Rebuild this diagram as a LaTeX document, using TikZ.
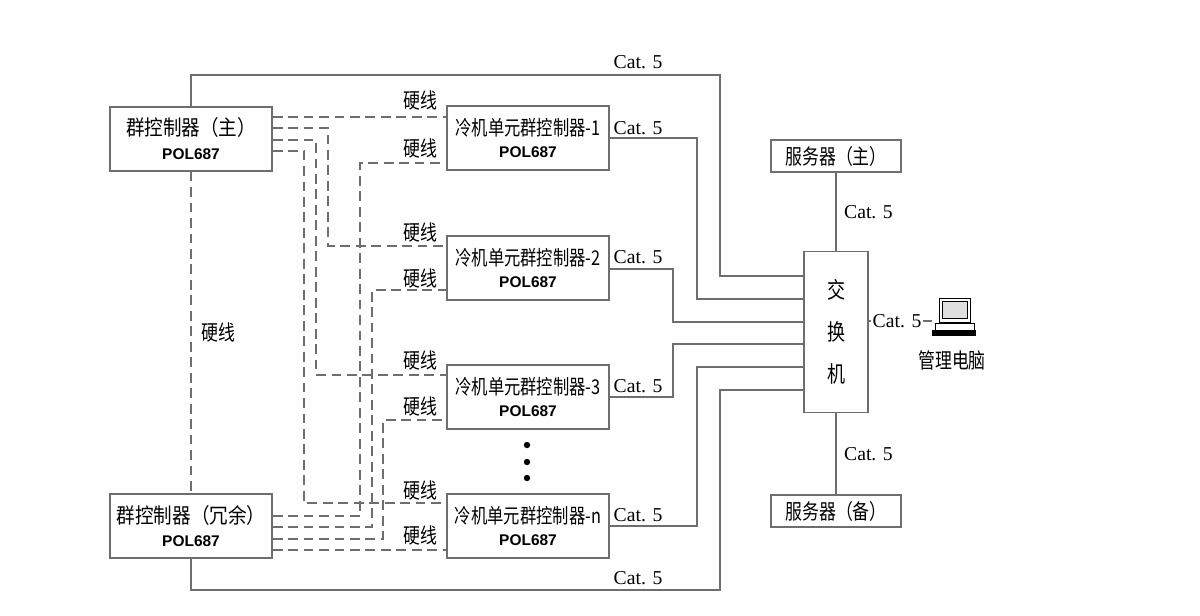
\documentclass[tikz,border=0pt]{standalone}
\usepackage{fontspec}
\setmainfont{Liberation Serif}
\newfontfamily\cjk{Noto Sans CJK SC}[FakeStretch=0.88]
\newfontfamily\cjkn{Noto Sans CJK SC}[FakeStretch=0.8]
\newfontfamily\polfont{Liberation Sans}
\usetikzlibrary{positioning}
\definecolor{lineColor}{RGB}{110,110,110}
\tikzset{
  box/.style = {draw=lineColor, line width=.9pt, inner sep=0pt},
  ctrlBox/.style = {box, minimum width=4.05cm, minimum height=1.6cm, align=center},
  cat/.style = {font=\fontsize{14}{14}\selectfont},
  hardLabel/.style = {font=\cjkn\fontsize{15}{15}\selectfont},
  netLine/.style = {draw=lineColor, line width=.9pt},
  hardLine/.style = {draw=lineColor, line width=.9pt, dash pattern=on 7pt off 4pt}
}
\newcommand{\gcText}[1]{{\cjk\fontsize{15}{16}\selectfont #1}\\[5pt]{\polfont\bfseries\fontsize{11}{13}\selectfont POL687}}
\newcommand{\unitText}[1]{{\cjkn\fontsize{14.5}{16}\selectfont #1}\\[3pt]{\polfont\bfseries\fontsize{11}{13}\selectfont POL687}}
\begin{document}
\begin{tikzpicture}[x=0.025cm, y=-0.025cm]
  \useasboundingbox (0,0) rectangle (1200,616);
  % controllers
  \node [ctrlBox] (gcMain) at (191,139) {\gcText{群控制器（主）}};
  \node [ctrlBox] (gcBack) at (191,526) {\gcText{群控制器（冗余）}};
  \node [ctrlBox] (unitA) at (528,138) {\unitText{冷机单元群控制器-1}};
  \node [ctrlBox] (unitB) at (528,268) {\unitText{冷机单元群控制器-2}};
  \node [ctrlBox] (unitC) at (528,397) {\unitText{冷机单元群控制器-3}};
  \node [ctrlBox] (unitN) at (528,526) {\unitText{冷机单元群控制器-n}};
  \foreach \y in {445,462,478} \fill (527,\y) circle (3.2);
  % network
  \node [box, minimum width=1.6cm, minimum height=4.02cm, align=center,
         font=\cjkn\fontsize{16}{30}\selectfont] (switch) at (836,332) {交\\换\\机};
  \node [box, minimum width=3.25cm, minimum height=.8cm, font=\cjkn\fontsize{15}{15}\selectfont]
        (srvMain) at (836,156) {服务器（主）};
  \node [box, minimum width=3.25cm, minimum height=.8cm, font=\cjkn\fontsize{15}{15}\selectfont]
        (srvBack) at (836,511) {服务器（备）};
  % pc icon
  \coordinate (pc) at (932,321);
  \draw [line width=.6pt] (939,298) rectangle (970,322);
  \fill [gray!25] (942,301) rectangle (967,318);
  \draw [line width=.6pt] (942,301) rectangle (967,318);
  \draw [line width=.6pt] (935,323) rectangle (974,333);
  \fill (932,330) rectangle (976,336);
  \node [font=\cjkn\fontsize{15}{15}\selectfont] (pcLabel) at (952,360) {管理电脑};
  % cat 5 links
  \draw [netLine] (gcMain.north) |- (720,75) |- (switch.west |- 0,276);
  \node [cat] at (638,62) {Cat. 5};
  \draw [netLine] (unitA.east) -| (697,299) -- (switch.west |- 0,299);
  \node [cat] at (638,128) {Cat. 5};
  \draw [netLine] (unitB.east |- 0,269) -| (673,322) -- (switch.west |- 0,322);
  \node [cat] at (638,257) {Cat. 5};
  \draw [netLine] (unitC.east) -| (673,344) -- (switch.west |- 0,344);
  \node [cat] at (638,386) {Cat. 5};
  \draw [netLine] (unitN.east) -| (697,367) -- (switch.west |- 0,367);
  \node [cat] at (638,515) {Cat. 5};
  \draw [netLine] (gcBack.south) |- (720,590) |- (switch.west |- 0,390);
  \node [cat] at (638,578) {Cat. 5};
  \draw [netLine] (srvMain) -- (switch) node [cat, midway, right=2pt] {Cat. 5};
  \draw [netLine] (srvBack) -- (switch) node [cat, midway, right=2pt] {Cat. 5};
  \draw [netLine] (switch.east |- pc) -- (pc);
  \node [cat, fill=white, inner sep=1pt] at (897,321) {Cat. 5};
  % hard wires
  \draw [hardLine] (gcMain) -- (gcBack) node [hardLabel, midway, right=4pt] {硬线};
  \draw [hardLine] (gcMain.east |- 0,117) -- (unitA.west |- 0,117);
  \draw [hardLine] (gcMain.east |- 0,128) -| (328,246) -- (unitB.west |- 0,246);
  \draw [hardLine] (gcMain.east |- 0,140) -| (316,375) -- (unitC.west |- 0,375);
  \draw [hardLine] (gcMain.east |- 0,151) -| (304,503) -- (unitN.west |- 0,503);
  \draw [hardLine] (gcBack.east |- 0,516) -| (360,163) -- (unitA.west |- 0,163);
  \draw [hardLine] (gcBack.east |- 0,527) -| (372,290) -- (unitB.west |- 0,290);
  \draw [hardLine] (gcBack.east |- 0,539) -| (383,420) -- (unitC.west |- 0,420);
  \draw [hardLine] (gcBack.east |- 0,550) -- (unitN.west |- 0,550);
  \foreach \y in {100,148,232,278,360,406,490,535}
    \node [hardLabel] at (420,\y) {硬线};
\end{tikzpicture}
\end{document}
